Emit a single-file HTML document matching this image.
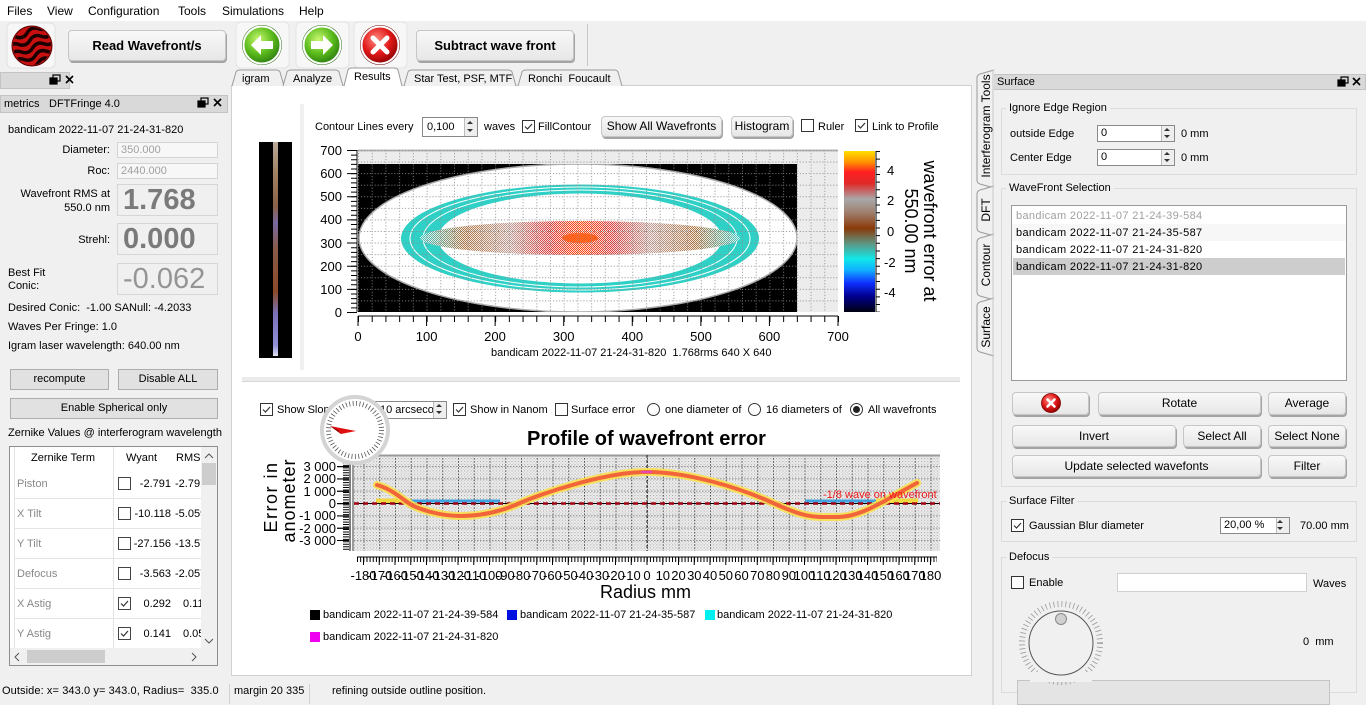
<!DOCTYPE html>
<html><head><meta charset="utf-8">
<style>
*{margin:0;padding:0;box-sizing:border-box}
body{width:1366px;height:705px;overflow:hidden;background:#f0f0f0;font-family:"Liberation Sans",sans-serif;font-size:11px;color:#000;position:relative}
.a{position:absolute;white-space:nowrap;line-height:16px;height:16px}
.btn{position:absolute;background:linear-gradient(#f8f8f8,#e7e7e7);border:1px solid #c6c6c6;border-radius:4px;box-shadow:1px 2px 0 #a4a4a4;text-align:center;white-space:nowrap;font-size:12px}
.fbtn{position:absolute;background:#e1e1e1;border:1px solid #adadad;text-align:center;white-space:nowrap}
.cb{position:absolute;width:13px;height:13px;border:1px solid #333;background:#fff}
.inp{position:absolute;background:#fff;border:1px solid #a8a8a8;white-space:nowrap}
.grp{position:absolute;border:1px solid #dcdcdc}
.gt{position:absolute;background:#f0f0f0;padding:0 3px;line-height:14px;white-space:nowrap}
.ro{position:absolute;width:120px;text-align:right;white-space:nowrap;line-height:16px}
.big{position:absolute;left:117px;width:101px;height:32px;border:1px solid #d6d6d6;background:#f0f0f0;color:#7a7a7a;font-size:29px;line-height:31px;padding-left:5px;white-space:nowrap}
.term{position:absolute;left:17px;color:#888;line-height:16px}
.wy{position:absolute;width:50px;left:121px;text-align:right;line-height:16px}
.rm{position:absolute;overflow:hidden;width:26px;line-height:16px;white-space:nowrap}
.sp{position:absolute;width:13px;height:100%;right:0;top:0;border-left:1px solid #bbb;background:#eee}
.li{position:absolute;left:1016px;letter-spacing:0.35px;line-height:16px;white-space:nowrap}
.mn{position:absolute;font-size:12px;line-height:16px;white-space:nowrap}
</style></head><body>

<!-- menu bar -->
<div style="position:absolute;left:0;top:0;width:1366px;height:21px;background:#fff"></div>
<div class="mn" style="left:7px;top:3px">Files</div>
<div class="mn" style="left:47px;top:3px">View</div>
<div class="mn" style="left:88px;top:3px">Configuration</div>
<div class="mn" style="left:178px;top:3px">Tools</div>
<div class="mn" style="left:222px;top:3px">Simulations</div>
<div class="mn" style="left:299px;top:3px">Help</div>

<!-- toolbar buttons -->
<div class="btn" style="left:68px;top:30px;width:158px;height:31px;font-weight:bold;font-size:13px;line-height:29px">Read Wavefront/s</div>
<div class="btn" style="left:416px;top:30px;width:158px;height:31px;font-weight:bold;font-size:13px;line-height:29px">Subtract wave front</div>
<div style="position:absolute;left:587px;top:24px;width:1px;height:42px;background:#c8c8c8"></div>

<!-- left dock -->
<div style="position:absolute;left:0;top:72px;width:70px;height:17px;background:#d9d9d9;border:1px solid #c4c4c4"></div>
<div style="position:absolute;left:0;top:95px;width:228px;height:18px;background:#d9d9d9;border:1px solid #c4c4c4"></div>
<div class="a" style="left:4px;top:96px">metrics</div>
<div class="a" style="left:49px;top:96px">DFTFringe 4.0</div>

<div class="a" style="left:8px;top:122px">bandicam 2022-11-07 21-24-31-820</div>
<div class="ro" style="left:-10px;top:142px">Diameter:</div>
<div class="inp" style="left:117px;top:142px;width:101px;height:16px;background:#f7f7f7;border-color:#d4d4d4;color:#a0a0a0;padding-left:3px;line-height:14px">350.000</div>
<div class="ro" style="left:-10px;top:163px">Roc:</div>
<div class="inp" style="left:117px;top:163px;width:101px;height:16px;background:#f7f7f7;border-color:#d4d4d4;color:#a0a0a0;padding-left:3px;line-height:14px">2440.000</div>
<div class="ro" style="left:-10px;top:186px">Wavefront RMS at</div>
<div class="ro" style="left:-10px;top:200px">550.0 nm</div>
<div class="big" style="top:184px;font-weight:bold">1.768</div>
<div class="ro" style="left:-10px;top:232px">Strehl:</div>
<div class="big" style="top:223px;font-weight:bold">0.000</div>
<div class="a" style="left:8px;top:265px">Best Fit</div>
<div class="a" style="left:8px;top:278px">Conic:</div>
<div class="big" style="top:263px;color:#959595">-0.062</div>
<div class="a" style="left:8px;top:300px">Desired Conic:&nbsp; -1.00 SANull: -4.2033</div>
<div class="a" style="left:8px;top:319px">Waves Per Fringe: 1.0</div>
<div class="a" style="left:8px;top:338px">Igram laser wavelength: 640.00 nm</div>
<div class="fbtn" style="left:10px;top:369px;width:99px;height:21px;line-height:19px">recompute</div>
<div class="fbtn" style="left:118px;top:369px;width:100px;height:21px;line-height:19px">Disable ALL</div>
<div class="fbtn" style="left:10px;top:398px;width:208px;height:21px;line-height:19px">Enable Spherical only</div>
<div class="a" style="left:8px;top:425px">Zernike Values @ interferogram wavelength</div>

<!-- zernike table -->
<div style="position:absolute;left:9px;top:446px;width:209px;height:220px;background:#fff;border:1px solid #8e8e8e"></div>
<div style="position:absolute;left:14px;top:447px;width:1px;height:201px;background:#e4e4e4"></div>
<div style="position:absolute;left:113px;top:447px;width:1px;height:201px;background:#e4e4e4"></div>
<div style="position:absolute;left:14px;top:498px;width:187px;height:1px;background:#e4e4e4"></div>
<div style="position:absolute;left:14px;top:528px;width:187px;height:1px;background:#e4e4e4"></div>
<div style="position:absolute;left:14px;top:558px;width:187px;height:1px;background:#e4e4e4"></div>
<div style="position:absolute;left:14px;top:588px;width:187px;height:1px;background:#e4e4e4"></div>
<div style="position:absolute;left:14px;top:618px;width:187px;height:1px;background:#e4e4e4"></div>
<div class="a" style="left:31px;top:450px">Zernike Term</div>
<div class="a" style="left:126px;top:450px">Wyant</div>
<div class="a" style="left:176px;top:450px">RMS</div>

<div class="term" style="top:476px">Piston</div>
<div class="term" style="top:506px">X Tilt</div>
<div class="term" style="top:536px">Y Tilt</div>
<div class="term" style="top:566px">Defocus</div>
<div class="term" style="top:596px">X Astig</div>
<div class="term" style="top:626px">Y Astig</div>

<div class="cb" style="left:118px;top:477px;border-color:#444"></div>
<div class="cb" style="left:118px;top:507px;border-color:#444"></div>
<div class="cb" style="left:118px;top:537px;border-color:#444"></div>
<div class="cb" style="left:118px;top:567px;border-color:#444"></div>
<div class="cb" style="left:118px;top:597px;border-color:#444"><svg width="11" height="11" style="position:absolute;left:0;top:0"><polyline points="2,5.5 4.5,8 9,3" fill="none" stroke="#333" stroke-width="1.2"/></svg></div>
<div class="cb" style="left:118px;top:627px;border-color:#444"><svg width="11" height="11" style="position:absolute;left:0;top:0"><polyline points="2,5.5 4.5,8 9,3" fill="none" stroke="#333" stroke-width="1.2"/></svg></div>

<div class="wy" style="top:476px">-2.791</div>
<div class="wy" style="top:506px">-10.118</div>
<div class="wy" style="top:536px">-27.156</div>
<div class="wy" style="top:566px">-3.563</div>
<div class="wy" style="top:596px">0.292</div>
<div class="wy" style="top:626px">0.141</div>
<div class="rm" style="left:175px;top:476px">-2.791</div>
<div class="rm" style="left:175px;top:506px">-5.059</div>
<div class="rm" style="left:175px;top:536px">-13.57</div>
<div class="rm" style="left:175px;top:566px">-2.057</div>
<div class="rm" style="left:183px;top:596px;width:18px">0.1192</div>
<div class="rm" style="left:183px;top:626px;width:18px">0.0575</div>

<div style="position:absolute;left:201px;top:447px;width:16px;height:201px;background:#f0f0f0"></div>
<div style="position:absolute;left:202px;top:463px;width:14px;height:22px;background:#cdcdcd"></div>
<div style="position:absolute;left:10px;top:648px;width:207px;height:17px;background:#f0f0f0"></div>
<div style="position:absolute;left:27px;top:650px;width:78px;height:13px;background:#cdcdcd"></div>

<!-- status bar -->
<div class="a" style="left:2px;top:683px;letter-spacing:0.1px">Outside: x= 343.0 y= 343.0, Radius=&nbsp; 335.0</div>
<div style="position:absolute;left:229px;top:684px;width:1px;height:20px;background:#d0d0d0"></div>
<div class="a" style="left:234px;top:683px">margin 20 335</div>
<div style="position:absolute;left:309px;top:684px;width:1px;height:20px;background:#d0d0d0"></div>
<div class="a" style="left:332px;top:683px">refining outside outline position.</div>

<!-- center white panel -->
<div style="position:absolute;left:231px;top:85px;width:741px;height:591px;background:#fff;border:1px solid #d0d0d0"></div>
<div style="position:absolute;left:300px;top:104px;width:4px;height:266px;background:#f0f0f0"></div>
<div style="position:absolute;left:242px;top:377px;width:718px;height:5px;background:#ebebeb;border-bottom:1px solid #d8d8d8"></div>

<!-- right dock -->
<div style="position:absolute;left:993px;top:74px;width:373px;height:16px;background:#d9d9d9;border:1px solid #c4c4c4"></div>
<div class="a" style="left:997px;top:74px">Surface</div>

<div class="grp" style="left:1001px;top:108px;width:356px;height:67px"></div>
<div class="gt" style="left:1006px;top:101px">Ignore Edge Region</div>
<div class="a" style="left:1010px;top:126px">outside Edge</div>
<div class="inp" style="left:1097px;top:125px;width:78px;height:17px;padding-left:3px;line-height:15px;border-color:#8a8a8a">0<div class="sp"></div></div>
<div class="a" style="left:1181px;top:126px">0 mm</div>
<div class="a" style="left:1010px;top:150px">Center Edge</div>
<div class="inp" style="left:1097px;top:149px;width:78px;height:17px;padding-left:3px;line-height:15px;border-color:#8a8a8a">0<div class="sp"></div></div>
<div class="a" style="left:1181px;top:150px">0 mm</div>

<div class="grp" style="left:1001px;top:188px;width:356px;height:299px"></div>
<div class="gt" style="left:1006px;top:181px">WaveFront Selection</div>
<div style="position:absolute;left:1011px;top:205px;width:336px;height:176px;background:#fff;border:1px solid #9a9a9a"></div>
<div style="position:absolute;left:1012px;top:224px;width:334px;height:17px;background:#f7f7f7"></div>
<div style="position:absolute;left:1013px;top:258px;width:332px;height:17px;background:#cdcdcd"></div>
<div class="li" style="top:208px;color:#a0a0a0">bandicam 2022-11-07 21-24-39-584</div>
<div class="li" style="top:225px">bandicam 2022-11-07 21-24-35-587</div>
<div class="li" style="top:242px">bandicam 2022-11-07 21-24-31-820</div>
<div class="li" style="top:259px">bandicam 2022-11-07 21-24-31-820</div>

<div class="btn" style="left:1012px;top:392px;width:77px;height:23px"></div>
<div class="btn" style="left:1098px;top:392px;width:163px;height:23px;line-height:21px">Rotate</div>
<div class="btn" style="left:1268px;top:392px;width:78px;height:23px;line-height:21px">Average</div>
<div class="btn" style="left:1012px;top:425px;width:164px;height:22px;line-height:20px">Invert</div>
<div class="btn" style="left:1183px;top:425px;width:78px;height:22px;line-height:20px">Select All</div>
<div class="btn" style="left:1268px;top:425px;width:78px;height:22px;line-height:20px">Select None</div>
<div class="btn" style="left:1012px;top:455px;width:249px;height:22px;line-height:20px">Update selected wavefonts</div>
<div class="btn" style="left:1268px;top:455px;width:78px;height:22px;line-height:20px">Filter</div>

<div class="grp" style="left:1001px;top:501px;width:356px;height:41px"></div>
<div class="gt" style="left:1006px;top:494px">Surface Filter</div>
<div class="cb" style="left:1011px;top:519px"><svg width="11" height="11" style="position:absolute;left:0;top:0"><polyline points="2,5.5 4.5,8 9,3" fill="none" stroke="#333" stroke-width="1.2"/></svg></div>
<div class="a" style="left:1029px;top:518px">Gaussian Blur diameter</div>
<div class="inp" style="left:1220px;top:517px;width:70px;height:17px;padding-left:3px;line-height:15px;border-color:#8a8a8a">20,00 %<div class="sp"></div></div>
<div class="a" style="left:1300px;top:518px">70.00 mm</div>

<div class="grp" style="left:1001px;top:557px;width:356px;height:136px"></div>
<div class="gt" style="left:1006px;top:550px">Defocus</div>
<div class="cb" style="left:1011px;top:576px"></div>
<div class="a" style="left:1029px;top:575px">Enable</div>
<div class="inp" style="left:1117px;top:573px;width:190px;height:19px;border-color:#d0d0d0"></div>
<div class="a" style="left:1313px;top:576px">Waves</div>
<div class="a" style="left:1303px;top:634px">0&nbsp; mm</div>
<div style="position:absolute;left:1017px;top:680px;width:313px;height:25px;background:#e4e4e4;border:1px solid #c4c4c4"></div>

<!-- top chart toolbar -->
<div class="a" style="left:315px;top:119px">Contour Lines every</div>
<div class="inp" style="left:422px;top:117px;width:56px;height:20px;padding-left:4px;line-height:18px;border-color:#888">0,100<div class="sp"></div></div>
<div class="a" style="left:484px;top:119px">waves</div>
<div class="cb" style="left:522px;top:120px"><svg width="11" height="11" style="position:absolute;left:0;top:0"><polyline points="2,5.5 4.5,8 9,3" fill="none" stroke="#333" stroke-width="1.2"/></svg></div>
<div class="a" style="left:538px;top:119px">FillContour</div>
<div class="btn" style="left:601px;top:116px;width:121px;height:21px;line-height:19px;overflow:hidden">Show All Wavefronts</div>
<div class="btn" style="left:731px;top:116px;width:62px;height:21px;line-height:19px">Histogram</div>
<div class="cb" style="left:801px;top:119px"></div>
<div class="a" style="left:818px;top:119px">Ruler</div>
<div class="cb" style="left:855px;top:119px"><svg width="11" height="11" style="position:absolute;left:0;top:0"><polyline points="2,5.5 4.5,8 9,3" fill="none" stroke="#333" stroke-width="1.2"/></svg></div>
<div class="a" style="left:872px;top:119px">Link to Profile</div>
<div class="a" style="left:491px;top:345px">bandicam 2022-11-07 21-24-31-820&nbsp; 1.768rms 640 X 640</div>

<!-- bottom chart toolbar -->
<div class="cb" style="left:260px;top:403px"><svg width="11" height="11" style="position:absolute;left:0;top:0"><polyline points="2,5.5 4.5,8 9,3" fill="none" stroke="#333" stroke-width="1.2"/></svg></div>
<div class="a" style="left:277px;top:402px">Show Slope</div>
<div class="inp" style="left:373px;top:401px;width:74px;height:18px;padding-left:6px;line-height:16px;border-color:#888;overflow:hidden">10 arcseco<div class="sp" style="background:#eee"></div></div>
<div class="cb" style="left:453px;top:403px"><svg width="11" height="11" style="position:absolute;left:0;top:0"><polyline points="2,5.5 4.5,8 9,3" fill="none" stroke="#333" stroke-width="1.2"/></svg></div>
<div class="a" style="left:470px;top:402px;width:78px;overflow:hidden">Show in Nanometers</div>
<div class="cb" style="left:555px;top:403px"></div>
<div class="a" style="left:571px;top:402px">Surface error</div>
<div style="position:absolute;left:647px;top:403px;width:13px;height:13px;border:1px solid #333;border-radius:50%;background:#fff"></div>
<div class="a" style="left:665px;top:402px">one diameter of</div>
<div style="position:absolute;left:748px;top:403px;width:13px;height:13px;border:1px solid #333;border-radius:50%;background:#fff"></div>
<div class="a" style="left:766px;top:402px">16 diameters of</div>
<div style="position:absolute;left:850px;top:403px;width:13px;height:13px;border:1px solid #333;border-radius:50%;background:#fff"><div style="position:absolute;left:2px;top:2px;width:7px;height:7px;border-radius:50%;background:#222"></div></div>
<div class="a" style="left:868px;top:402px">All wavefronts</div>

<div class="a" style="left:527px;top:427px;font-weight:bold;font-size:20px;line-height:24px;height:24px">Profile of wavefront error</div>
<div class="a" style="left:600px;top:580px;font-size:18px;line-height:24px;height:24px">Radius mm</div>

<!-- legend -->
<div style="position:absolute;left:310px;top:610px;width:10px;height:10px;background:#000"></div>
<div class="a" style="left:323px;top:607px">bandicam 2022-11-07 21-24-39-584</div>
<div style="position:absolute;left:507px;top:610px;width:10px;height:10px;background:#0010e0"></div>
<div class="a" style="left:520px;top:607px">bandicam 2022-11-07 21-24-35-587</div>
<div style="position:absolute;left:705px;top:610px;width:10px;height:10px;background:#00f0f0"></div>
<div class="a" style="left:717px;top:607px">bandicam 2022-11-07 21-24-31-820</div>
<div style="position:absolute;left:310px;top:632px;width:10px;height:10px;background:#f000f0"></div>
<div class="a" style="left:323px;top:629px">bandicam 2022-11-07 21-24-31-820</div>

<!-- graphics -->
<svg width="1366" height="705" style="position:absolute;left:0;top:0" font-family="Liberation Sans, sans-serif">
<defs>
<radialGradient id="gG" cx=".4" cy=".35" r=".7"><stop offset="0" stop-color="#c8f870"/><stop offset=".55" stop-color="#5cbc1c"/><stop offset="1" stop-color="#2a7a10"/></radialGradient>
<radialGradient id="gR" cx=".4" cy=".35" r=".7"><stop offset="0" stop-color="#ff8a80"/><stop offset=".55" stop-color="#e01818"/><stop offset="1" stop-color="#8a0000"/></radialGradient>
<clipPath id="wc"><circle cx="32" cy="46" r="19"/></clipPath>
<clipPath id="imc"><rect x="358" y="164" width="439" height="148"/></clipPath>
<clipPath id="bc"><ellipse cx="580" cy="238" rx="160" ry="17"/></clipPath>
<pattern id="tg" x="358" y="150" width="13.714" height="11.57" patternUnits="userSpaceOnUse"><line x1="0.5" y1="0" x2="0.5" y2="11.57" stroke="#8a8a8a" stroke-dasharray="1 2"/><line x1="0" y1="0.5" x2="13.714" y2="0.5" stroke="#8a8a8a" stroke-dasharray="1 2"/></pattern>
<pattern id="st" width="2" height="2" patternUnits="userSpaceOnUse"><rect x="1" width="1" height="1" fill="#fff"/><rect y="1" width="1" height="1" fill="#fff"/></pattern>
<linearGradient id="band" x1="420" y1="0" x2="740" y2="0" gradientUnits="userSpaceOnUse">
<stop offset="0" stop-color="#40c8c0"/><stop offset=".14" stop-color="#b07848"/><stop offset=".28" stop-color="#c0a098"/><stop offset=".4" stop-color="#d84040"/><stop offset=".5" stop-color="#ff4a10"/><stop offset=".6" stop-color="#d84040"/><stop offset=".72" stop-color="#c0a098"/><stop offset=".86" stop-color="#b07848"/><stop offset="1" stop-color="#40c8c0"/></linearGradient>
<linearGradient id="cbar" x1="0" y1="0" x2="0" y2="1">
<stop offset="0" stop-color="#ffe000"/><stop offset=".07" stop-color="#ff9000"/><stop offset=".13" stop-color="#ff2020"/><stop offset=".2" stop-color="#e02828"/><stop offset=".3" stop-color="#a8a8a8"/><stop offset=".38" stop-color="#a08070"/><stop offset=".48" stop-color="#8a3a08"/><stop offset=".58" stop-color="#5a9a88"/><stop offset=".67" stop-color="#10e8e8"/><stop offset=".74" stop-color="#10b0ff"/><stop offset=".82" stop-color="#1030ff"/><stop offset=".9" stop-color="#000090"/><stop offset="1" stop-color="#000010"/></linearGradient>
<linearGradient id="strip" x1="0" y1="0" x2="0" y2="1">
<stop offset="0" stop-color="#b8aa98"/><stop offset=".15" stop-color="#a08060"/><stop offset=".3" stop-color="#8a6048"/><stop offset=".38" stop-color="#7868a0"/><stop offset=".5" stop-color="#8a5a48"/><stop offset=".7" stop-color="#8a4a28"/><stop offset=".8" stop-color="#7a70b8"/><stop offset=".95" stop-color="#9090d8"/><stop offset="1" stop-color="#e0e0f0"/></linearGradient>
<pattern id="pg" x="354" y="455" width="3.15" height="3.08" patternUnits="userSpaceOnUse"><rect width="3.15" height="3.08" fill="#ececec"/><rect width="1" height="1" fill="#a0a0a0"/><rect x="1.6" y="1.5" width="1" height="1" fill="#c8c8c8"/></pattern>
<pattern id="pm" x="363.5" y="455" width="15.75" height="3.08" patternUnits="userSpaceOnUse"><rect width="1" height="1.5" fill="#444"/></pattern>
<pattern id="pmh" x="354" y="466" width="3" height="12.33" patternUnits="userSpaceOnUse"><rect width="1.5" height="1" fill="#555"/></pattern>
</defs>

<!-- toolbar icons -->
<rect x="7" y="23" width="48" height="45" rx="5" fill="#f7f7f7" stroke="#e0e0e0"/>
<circle cx="32" cy="46" r="20" fill="#c81010" stroke="#5a0000" stroke-width="1"/>
<g clip-path="url(#wc)" stroke="#1a0000" stroke-width="3.5" fill="none" transform="rotate(-20 32 46)">
<path d="M8,32 q6,-5 12,0 t12,0 t12,0 t12,0"/><path d="M8,40 q6,-5 12,0 t12,0 t12,0 t12,0"/><path d="M8,48 q6,-5 12,0 t12,0 t12,0 t12,0"/><path d="M8,56 q6,-5 12,0 t12,0 t12,0 t12,0"/><path d="M8,64 q6,-5 12,0 t12,0 t12,0 t12,0"/></g>
<rect x="236" y="22" width="53" height="46" rx="5" fill="#f7f7f7" stroke="#e4e4e4"/>
<rect x="296" y="22" width="53" height="46" rx="5" fill="#f7f7f7" stroke="#e4e4e4"/>
<rect x="354" y="22" width="53" height="46" rx="5" fill="#f7f7f7" stroke="#e4e4e4"/>
<circle cx="262" cy="45" r="20" fill="#2a6a10"/><circle cx="262" cy="45" r="18.5" fill="url(#gG)" stroke="#fff" stroke-width="2"/>
<polygon points="251,45 261,35 261,41 273,41 273,49 261,49 261,55" fill="#fff"/>
<circle cx="322" cy="45" r="20" fill="#2a6a10"/><circle cx="322" cy="45" r="18.5" fill="url(#gG)" stroke="#fff" stroke-width="2"/>
<polygon points="333,45 323,35 323,41 311,41 311,49 323,49 323,55" fill="#fff"/>
<circle cx="380" cy="45" r="20" fill="#6a0000"/><circle cx="380" cy="45" r="18.5" fill="url(#gR)" stroke="#fff" stroke-width="2"/>
<path d="M373,38 L387,52 M387,38 L373,52" stroke="#fff" stroke-width="5" stroke-linecap="round"/>

<!-- dock icons -->
<g stroke="#000" fill="none" stroke-width="1.2">
<rect x="53" y="75" width="7" height="6"/><rect x="50" y="78" width="7" height="6" fill="#000"/>
<path d="M66,76 l7,7 M73,76 l-7,7" stroke-width="1.6"/>
<rect x="201" y="98" width="7" height="6"/><rect x="198" y="101" width="7" height="6" fill="#000"/>
<path d="M214,99 l7,7 M221,99 l-7,7" stroke-width="1.6"/>
<rect x="1341" y="77" width="7" height="6"/><rect x="1338" y="80" width="7" height="6" fill="#000"/>
<path d="M1353,78 l7,7 M1360,78 l-7,7" stroke-width="1.6"/>
</g>

<!-- table arrows -->
<path d="M205,458 l4,-4 l4,4" stroke="#555" fill="none"/>
<path d="M205,639 l4,4 l4,-4" stroke="#555" fill="none"/>
<path d="M19,653 l-4,4 l4,4" stroke="#555" fill="none"/>
<path d="M192,653 l4,4 l-4,4" stroke="#555" fill="none"/>

<!-- center tabs -->
<g fill="#f0f0f0" stroke="#9a9a9a">
<path d="M232,86 L236,72 Q237,70 240,70 L276,70 Q279,70 280,72 L284,86"/>
<path d="M283,86 L287,72 Q288,70 291,70 L335,70 Q338,70 339,72 L343,86"/>
<path d="M404,86 L408,72 Q409,70 412,70 L508,70 Q511,70 512,72 L516,86"/>
<path d="M518,86 L522,72 Q523,70 526,70 L614,70 Q617,70 618,72 L622,86"/>
<path d="M344,86 L348,70 Q349,68 352,68 L394,68 Q397,68 398,70 L402,86" fill="#fff"/>
</g>
<g font-size="11" fill="#000">
<text x="242" y="82">igram</text><text x="293" y="82">Analyze</text><text x="354" y="80">Results</text>
<text x="414" y="82">Star Test, PSF, MTF</text><text x="528" y="82">Ronchi&#160; Foucault</text>
</g>

<!-- right vertical tabs -->
<g fill="#f0f0f0" stroke="#9a9a9a">
<path d="M994,70 L980,74 Q977,75 977,78 L977,180 Q977,183 980,184 L994,188"/>
<path d="M994,186 L980,190 Q977,191 977,194 L977,228 Q977,231 980,232 L994,236"/>
<path d="M994,234 L980,238 Q977,239 977,242 L977,292 Q977,295 980,296 L994,300"/>
<path d="M994,298 L980,302 Q977,303 977,306 L977,348 Q977,351 980,352 L994,356"/>
</g>
<line x1="993" y1="70" x2="993" y2="705" stroke="#c8c8c8"/>
<g font-size="12" fill="#000">
<text transform="translate(990,126) rotate(-90)" text-anchor="middle">Interferogram Tools</text>
<text transform="translate(990,210) rotate(-90)" text-anchor="middle">DFT</text>
<text transform="translate(990,265) rotate(-90)" text-anchor="middle">Contour</text>
<text transform="translate(990,327) rotate(-90)" text-anchor="middle">Surface</text>
</g>

<!-- right panel X icon -->
<circle cx="1051" cy="403" r="9.5" fill="url(#gR)" stroke="#7a0000" stroke-width="0.8"/>
<path d="M1047.5,399.5 L1054.5,406.5 M1054.5,399.5 L1047.5,406.5" stroke="#fff" stroke-width="2.6" stroke-linecap="round"/>
<!-- spin arrows -->
<g fill="#333">
<path d="M1164,131 l3,-3 l3,3z M1164,135 l3,3 l3,-3z"/>
<path d="M1164,155 l3,-3 l3,3z M1164,159 l3,3 l3,-3z"/>
<path d="M1277,523 l3,-3 l3,3z M1277,527 l3,3 l3,-3z"/>
<path d="M467,124 l3,-3 l3,3z M467,129 l3,3 l3,-3z"/>
<path d="M436,407 l3,-3 l3,3z M436,411 l3,3 l3,-3z"/>
</g>

<!-- dial -->
<circle cx="1061" cy="643" r="39" fill="none" stroke="#999" stroke-width="6" stroke-dasharray="0.8 3.2"/>
<rect x="1030" y="672" width="62" height="10" fill="#f0f0f0"/>
<circle cx="1061" cy="643" r="32" fill="#f0f0f0" stroke="#555" stroke-width="1"/>
<circle cx="1061" cy="619" r="5.5" fill="#d0d0d0" stroke="#888"/>

<!-- image strip -->
<rect x="259" y="142" width="33" height="216" fill="#000"/>
<rect x="273" y="142" width="5" height="214" fill="url(#strip)"/>

<!-- top chart -->
<rect x="358" y="150" width="480" height="162" fill="#ececec"/>
<line x1="358" y1="150.5" x2="838" y2="150.5" stroke="#b8b8b8" stroke-width="2"/>
<g clip-path="url(#imc)">
<rect x="358" y="164" width="439" height="148" fill="#000"/>
<ellipse cx="578" cy="238" rx="219" ry="74" fill="#fff" stroke="#aaa" stroke-width="1.5"/>
<ellipse cx="580" cy="238.5" rx="179" ry="54" fill="#2fd0c6"/>
<ellipse cx="580" cy="238.5" rx="142" ry="45" fill="#fff"/>
<ellipse cx="580" cy="238.5" rx="170" ry="51.5" fill="none" stroke="#fff" stroke-width="1"/>
<ellipse cx="580" cy="238.5" rx="157" ry="48.5" fill="none" stroke="#fff" stroke-width="1"/>
<ellipse cx="580" cy="238" rx="160" ry="17" fill="url(#band)"/>
<g clip-path="url(#bc)"><rect x="410" y="215" width="340" height="46" fill="url(#st)" opacity="0.8"/></g>
<ellipse cx="580" cy="238" rx="18" ry="5" fill="#ff5a10" opacity=".85"/>
</g>
<rect x="358" y="150" width="480" height="162" fill="url(#tg)"/>
<line x1="357" y1="150" x2="357" y2="312" stroke="#888" stroke-width="2"/>
<line x1="354" y1="150" x2="354" y2="312" stroke="#000" stroke-width="6" stroke-dasharray="1 3.628"/>
<line x1="352" y1="150" x2="352" y2="313" stroke="#000" stroke-width="10" stroke-dasharray="1 22.14"/>
<line x1="358" y1="316" x2="838" y2="316" stroke="#000" stroke-width="1"/>
<line x1="358" y1="319" x2="839" y2="319" stroke="#000" stroke-width="6" stroke-dasharray="1 12.714"/>
<line x1="357.5" y1="321" x2="839" y2="321" stroke="#000" stroke-width="10" stroke-dasharray="1 67.57"/>
<g font-size="13" fill="#000" text-anchor="end">
<text x="342" y="155">700</text><text x="342" y="178">600</text><text x="342" y="201">500</text><text x="342" y="224">400</text>
<text x="342" y="248">300</text><text x="342" y="271">200</text><text x="342" y="294">100</text><text x="342" y="317">0</text>
</g>
<g font-size="13" fill="#000" text-anchor="middle">
<text x="358" y="341">0</text><text x="426.6" y="341">100</text><text x="495" y="341">200</text><text x="563.7" y="341">300</text>
<text x="632.3" y="341">400</text><text x="701" y="341">500</text><text x="769.4" y="341">600</text><text x="838" y="341">700</text>
</g>
<!-- colorbar -->
<rect x="844" y="151" width="31" height="161" fill="url(#cbar)"/>
<line x1="876" y1="151" x2="876" y2="312" stroke="#000"/>
<line x1="878" y1="151" x2="878" y2="312" stroke="#000" stroke-width="4" stroke-dasharray="1 6.65"/>
<g font-size="13" fill="#000">
<text x="887" y="175">4</text><text x="887" y="205">2</text><text x="887" y="236">0</text><text x="884" y="267">-2</text><text x="884" y="297">-4</text>
</g>
<g font-size="18" fill="#000" text-anchor="middle">
<text transform="translate(924,231) rotate(90)">wavefront error at</text>
<text transform="translate(905,231) rotate(90)">550.00 nm</text>
</g>

<!-- profile chart -->
<rect x="354" y="455" width="586" height="96" fill="url(#pg)"/>
<rect x="354" y="455" width="586" height="96" fill="url(#pm)"/>
<rect x="354" y="455" width="586" height="96" fill="url(#pmh)" opacity=".6"/>
<line x1="354" y1="455.5" x2="940" y2="455.5" stroke="#9a9a9a" stroke-width="2"/>
<line x1="353" y1="455" x2="353" y2="551" stroke="#9a9a9a" stroke-width="2"/>
<line x1="346" y1="455" x2="346" y2="551" stroke="#000" stroke-width="6" stroke-dasharray="1 1.466"/>
<line x1="343" y1="466" x2="343" y2="541" stroke="#000" stroke-width="12" stroke-dasharray="1.2 11.13"/>
<line x1="350" y1="455" x2="350" y2="551" stroke="#000" stroke-width="1"/>
<line x1="357" y1="557" x2="937" y2="557" stroke="#000" stroke-width="1"/>
<line x1="357" y1="559.5" x2="937" y2="559.5" stroke="#000" stroke-width="5" stroke-dasharray="1 2.15"/>
<line x1="363" y1="561" x2="937" y2="561" stroke="#000" stroke-width="8" stroke-dasharray="1 14.75"/>
<g font-size="13" fill="#000" text-anchor="end">
<text x="336" y="471">3 000</text><text x="336" y="483">2 000</text><text x="336" y="496">1 000</text><text x="336" y="508">0</text>
<text x="336" y="520">-1 000</text><text x="336" y="533">-2 000</text><text x="336" y="545">-3 000</text>
</g>
<g font-size="13" fill="#000" text-anchor="middle">
<text x="363.5" y="580">-180</text><text x="379.3" y="580">-170</text><text x="395" y="580">-160</text><text x="410.8" y="580">-150</text>
<text x="426.5" y="580">-140</text><text x="442.3" y="580">-130</text><text x="458" y="580">-120</text><text x="473.8" y="580">-110</text>
<text x="489.5" y="580">-100</text><text x="505.3" y="580">-90</text><text x="521" y="580">-80</text><text x="536.8" y="580">-70</text>
<text x="552.5" y="580">-60</text><text x="568.3" y="580">-50</text><text x="584" y="580">-40</text><text x="599.8" y="580">-30</text>
<text x="615.5" y="580">-20</text><text x="631.3" y="580">-10</text><text x="647" y="580">0</text><text x="662.8" y="580">10</text>
<text x="678.5" y="580">20</text><text x="694.3" y="580">30</text><text x="710" y="580">40</text><text x="725.8" y="580">50</text>
<text x="741.5" y="580">60</text><text x="757.3" y="580">70</text><text x="773" y="580">80</text><text x="788.8" y="580">90</text>
<text x="804.5" y="580">100</text><text x="820.3" y="580">110</text><text x="836" y="580">120</text><text x="851.8" y="580">130</text>
<text x="867.5" y="580">140</text><text x="883.3" y="580">150</text><text x="899" y="580">160</text><text x="914.8" y="580">170</text>
<text x="930.5" y="580">180</text>
</g>
<!-- y axis title -->
<g font-size="18" fill="#000" text-anchor="middle">
<text transform="translate(277,497) rotate(-90)" letter-spacing="1.5">Error in</text>
</g>
<svg x="280" y="459" width="20" height="84"><text transform="translate(15,42) rotate(-90)" font-size="18" text-anchor="middle" letter-spacing="1">nanometers</text></svg>

<!-- profile lines -->
<line x1="647" y1="455" x2="647" y2="551" stroke="#222" stroke-dasharray="3 2"/>
<path d="M376,501 L412,501" stroke="#f0d840" stroke-width="5"/>
<path d="M410,501 L500,501" stroke="#40a0e0" stroke-width="3"/>
<path d="M805,501 L880,501" stroke="#40a0e0" stroke-width="3"/>
<path d="M876,501 L918,501" stroke="#f0d840" stroke-width="5"/>
<line x1="354" y1="503.5" x2="940" y2="503.5" stroke="#000" stroke-width="1"/>
<line x1="354" y1="503.5" x2="940" y2="503.5" stroke="#a00010" stroke-width="2.5" stroke-dasharray="5 4"/>
<path d="M377,485 C392,489 402,499 410,504 S440,516 460,516 S500,512 520,503 S605,472 647,472 S740,488 773,503 S812,517 837,517 S885,500 917,483" fill="none" stroke="#f8e050" stroke-width="8" stroke-linecap="round" opacity=".9"/>
<path d="M377,485 C392,489 402,499 410,504 S440,516 460,516 S500,512 520,503 S605,472 647,472 S740,488 773,503 S812,517 837,517 S885,500 917,483" fill="none" stroke="#f2643a" stroke-width="4" stroke-linecap="round"/>
<line x1="641" y1="472" x2="652" y2="472" stroke="#e040e0" stroke-width="1.5"/>
<text x="823" y="498" font-size="11" fill="#f01818">-1/8 wave on wavefront</text>

<!-- compass overlay -->
<circle cx="355" cy="430" r="33" fill="#fff" stroke="#d4d4d4" stroke-width="4"/>
<circle cx="355" cy="430" r="26.5" fill="none" stroke="#555" stroke-width="5" stroke-dasharray="0.8 2.6"/>
<circle cx="355" cy="430" r="21" fill="#fff"/>
<polygon points="330,426 356,431 341,434" fill="#e01010"/>
<polygon points="330,426 341,434 338,430" fill="#900000"/>
</svg>
</body></html>
